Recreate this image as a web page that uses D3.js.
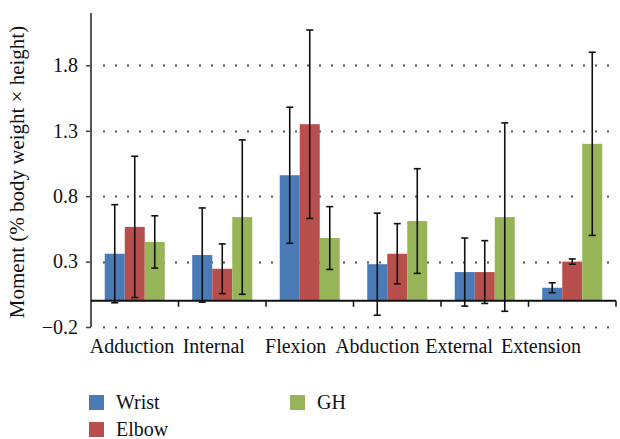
<!DOCTYPE html>
<html>
<head>
<meta charset="utf-8">
<script src="https://cdn.jsdelivr.net/npm/d3@7"></script>
<style>
  body { margin: 0; background: #fff; }
  svg { display: block; }
</style>
</head>
<body>
<div class="chart"></div>
<script>
// data
const categories = ["Adduction", "Internal", "Flexion", "Abduction", "External", "Extension"];
const seriesNames = ["Wrist", "Elbow", "GH"];
const wrist = [0.36, 0.35, 0.96, 0.28, 0.22, 0.10];
const elbow = [0.565, 0.245, 1.35, 0.36, 0.22, 0.30];
const gh = [0.45, 0.64, 0.48, 0.61, 0.64, 1.20];
const wristSd = [0.375, 0.36, 0.52, 0.39, 0.26, 0.038];
const elbowSd = [0.54, 0.19, 0.72, 0.23, 0.24, 0.02];
const ghSd = [0.2, 0.59, 0.24, 0.40, 0.72, 0.70];
const yTicks = [-0.2, 0.3, 0.8, 1.3, 1.8];
const colors = ["#4a7bb6", "#b94f4c", "#98b458"];

const width = 620, height = 439;
const plotLeft = 91, plotRight = 616, plotTop = 13, plotBottom = 327;
const font = "Liberation Serif";

const rows = categories.map((c, i) => ({
  cat: c,
  vals: [
    { s: "Wrist", v: wrist[i], sd: wristSd[i] },
    { s: "Elbow", v: elbow[i], sd: elbowSd[i] },
    { s: "GH", v: gh[i], sd: ghSd[i] }
  ]
}));

const svg = d3.select(".chart").append("svg")
  .attr("width", width)
  .attr("height", height);

const x0 = d3.scaleBand()
  .domain(categories)
  .range([plotLeft, plotRight])
  .paddingInner(0.314)
  .paddingOuter(0.157);

const x1 = d3.scaleBand()
  .domain(seriesNames)
  .range([0, x0.bandwidth()]);

const y = d3.scaleLinear()
  .domain([-0.2, 2.2])
  .range([plotBottom, plotTop]);

const color = d3.scaleOrdinal().domain(seriesNames).range(colors);

// labels sit a bit off the band centres in the original
const xLabel = d3.scalePoint()
  .domain(categories)
  .range([132, 541]);

// dotted grid
svg.append("g")
  .selectAll("line")
  .data(yTicks)
  .join("line")
  .attr("x1", plotLeft + 12)
  .attr("x2", 612)
  .attr("y1", d => Math.round(y(d)) + 0.5)
  .attr("y2", d => Math.round(y(d)) + 0.5)
  .attr("stroke", "#555")
  .attr("stroke-width", 2)
  .attr("stroke-dasharray", "2,10");

// y axis
const yAxis = svg.append("g")
  .attr("transform", `translate(${plotLeft},0)`)
  .call(d3.axisLeft(y).tickValues(yTicks).tickSize(5).tickPadding(8)
    .tickFormat(d => d < 0 ? "\u2212" + Math.abs(d).toFixed(1) : d.toFixed(1)));
yAxis.select(".domain").remove();
yAxis.attr("font-family", null).attr("font-size", null);
yAxis.selectAll(".tick line").attr("stroke", "#444").attr("stroke-width", 1.5);
yAxis.selectAll(".tick text")
  .attr("fill", "#111")
  .attr("font-family", font)
  .attr("font-size", 20);

svg.append("line")
  .attr("x1", plotLeft).attr("x2", plotLeft)
  .attr("y1", plotTop).attr("y2", plotBottom)
  .attr("stroke", "#555")
  .attr("stroke-width", 2);

// bars
const groups = svg.append("g")
  .selectAll("g")
  .data(rows)
  .join("g")
  .attr("transform", d => `translate(${x0(d.cat)},0)`);

groups.selectAll("rect")
  .data(d => d.vals)
  .join("rect")
  .attr("x", d => x1(d.s))
  .attr("width", x1.bandwidth())
  .attr("y", d => y(Math.max(0, d.v)))
  .attr("height", d => Math.abs(y(d.v) - y(0)))
  .attr("fill", d => color(d.s));

// zero line with category ticks
const zeroAxis = svg.append("g")
  .attr("transform", `translate(0,${y(0)})`);
zeroAxis.append("line")
  .attr("x1", plotLeft).attr("x2", plotRight)
  .attr("stroke", "#111")
  .attr("stroke-width", 2);
zeroAxis.selectAll("line.tick")
  .data(categories)
  .join("line")
  .attr("class", "tick")
  .attr("x1", d => x0(d) + x0.bandwidth() + x0.step() * x0.paddingInner() / 2)
  .attr("x2", d => x0(d) + x0.bandwidth() + x0.step() * x0.paddingInner() / 2)
  .attr("y1", 0).attr("y2", 6)
  .attr("stroke", "#111")
  .attr("stroke-width", 1.5);

// error bars
const err = groups.selectAll("g.err")
  .data(d => d.vals)
  .join("g")
  .attr("class", "err")
  .attr("transform", d => `translate(${x1(d.s) + x1.bandwidth() / 2},0)`)
  .attr("stroke", "#111")
  .attr("stroke-width", 1.6);
err.append("line")
  .attr("y1", d => y(d.v + d.sd))
  .attr("y2", d => y(d.v - d.sd));
err.append("line")
  .attr("x1", -3.5).attr("x2", 3.5)
  .attr("y1", d => y(d.v + d.sd))
  .attr("y2", d => y(d.v + d.sd));
err.append("line")
  .attr("x1", -3.5).attr("x2", 3.5)
  .attr("y1", d => y(d.v - d.sd))
  .attr("y2", d => y(d.v - d.sd));

// category labels
svg.append("g")
  .selectAll("text")
  .data(categories)
  .join("text")
  .attr("x", d => xLabel(d))
  .attr("y", 353)
  .attr("text-anchor", "middle")
  .attr("font-family", font)
  .attr("font-size", 20)
  .attr("fill", "#111")
  .text(d => d);

// y title
svg.append("text")
  .attr("transform", `translate(24,172) rotate(-90)`)
  .attr("text-anchor", "middle")
  .attr("font-family", font)
  .attr("font-size", 21)
  .attr("fill", "#111")
  .text("Moment (% body weight \u00d7 height)");

// legend
const legendPos = [[89, 395], [89, 422], [290, 395]];
const legend = svg.append("g")
  .selectAll("g")
  .data(seriesNames)
  .join("g")
  .attr("transform", (d, i) => `translate(${legendPos[i][0]},${legendPos[i][1]})`);
legend.append("rect")
  .attr("width", 15)
  .attr("height", 15)
  .attr("fill", d => color(d));
legend.append("text")
  .attr("x", 27)
  .attr("y", 14)
  .attr("font-family", font)
  .attr("font-size", 20)
  .attr("fill", "#111")
  .text(d => d);
</script>
</body>
</html>
